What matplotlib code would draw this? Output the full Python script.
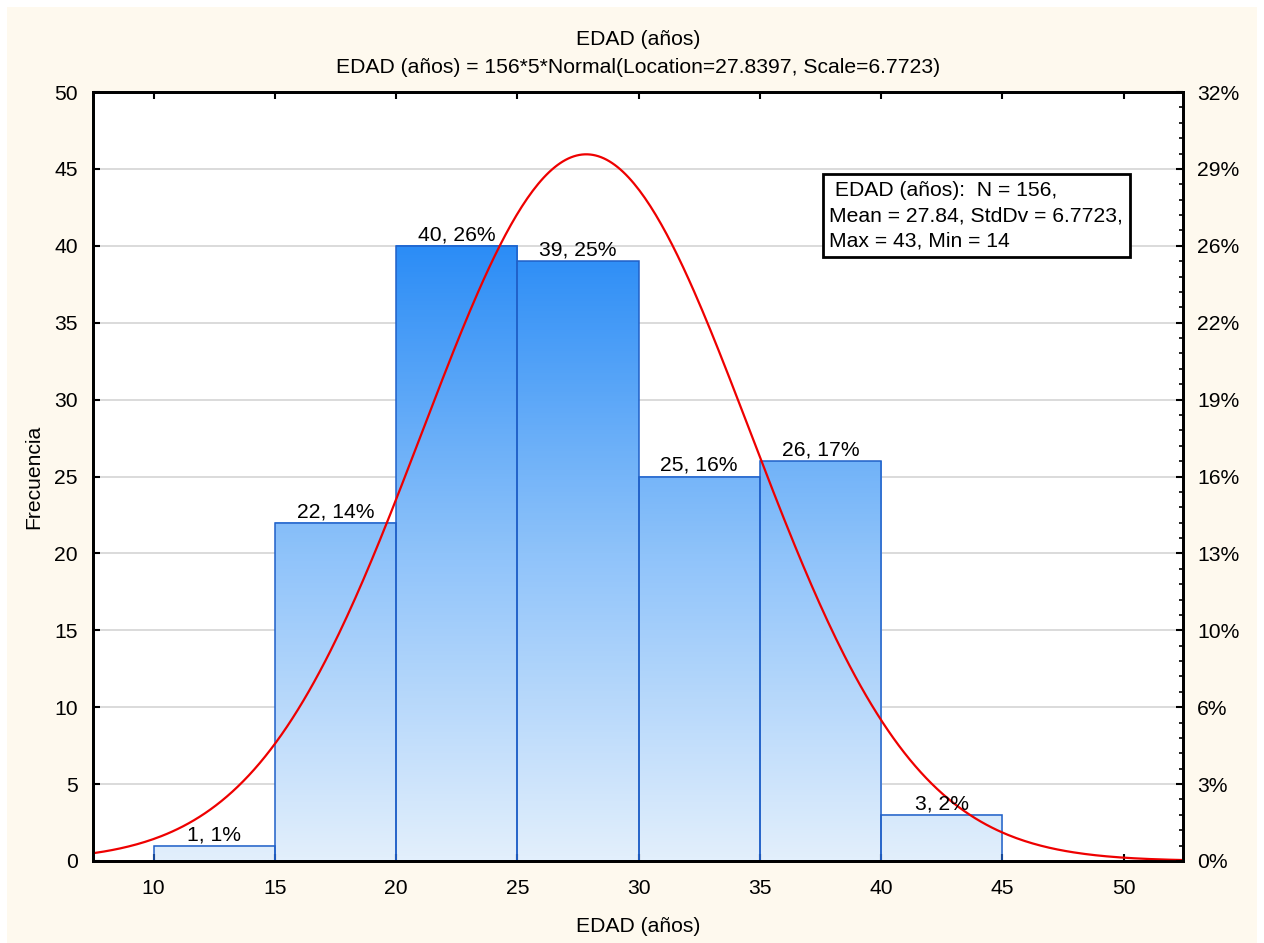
import numpy as np
import matplotlib
matplotlib.use('Agg')
import matplotlib.pyplot as plt
from matplotlib.colors import LinearSegmentedColormap
from matplotlib.patches import Rectangle

plt.rcParams['font.family'] = ['Liberation Sans', 'DejaVu Sans']

bin_edges = [10, 15, 20, 25, 30, 35, 40, 45]
counts = [1, 22, 40, 39, 25, 26, 3]
n_total = 156
mean = 27.8397
std = 6.7723
bin_width = 5
freq_ticks = [0, 5, 10, 15, 20, 25, 30, 35, 40, 45, 50]
x_ticks = [10, 15, 20, 25, 30, 35, 40, 45, 50]
fs = 15.2

fig = plt.figure(figsize=(12.64, 9.43), dpi=100)
fig.patch.set_facecolor('white')
fig.patches.append(Rectangle((7 / 1264, 0), 1250 / 1264, 936 / 943,
                             transform=fig.transFigure, facecolor='#FEF9EE',
                             edgecolor='none', zorder=-10))

ax = fig.add_axes([93 / 1264, 1 - 861 / 943, 1090 / 1264, 769 / 943])
ax.set_facecolor('white')

# horizontal grid
for t in freq_ticks[1:-1]:
    ax.axhline(t, color='#D4D4D4', lw=1.2, zorder=0)

# gradient-filled bars
cmap = LinearSegmentedColormap.from_list('blu', ['#E2EFFC', '#8FC3FA', '#2C8DF6'])
for left, right, c in zip(bin_edges[:-1], bin_edges[1:], counts):
    grad = np.linspace(0, c, 100).reshape(-1, 1)
    ax.imshow(grad, cmap=cmap, vmin=0, vmax=40, origin='lower', aspect='auto',
              extent=[left, right, 0, c], zorder=1, interpolation='bilinear')
lefts = bin_edges[:-1]
ax.bar(lefts, counts, width=bin_width, align='edge', fill=False,
       edgecolor='#2060C8', linewidth=1.1, zorder=2)
ax.set_xlim(7.5, 52.45)
ax.set_ylim(0, 50)

for left, c in zip(lefts, counts):
    pct = round(c / n_total * 100)
    ax.text(left + bin_width / 2, c + 0.1, f'{c}, {pct}%', ha='center', va='bottom',
            fontsize=fs, zorder=4)

# normal curve
xs = np.linspace(7.5, 52.45, 400)
ys = n_total * bin_width * np.exp(-0.5 * ((xs - mean) / std) ** 2) / (std * np.sqrt(2 * np.pi))
ax.plot(xs, ys, color='#EE0000', lw=1.6, zorder=3)

ax.set_xticks(x_ticks)
ax.set_yticks(freq_ticks)
ax.tick_params(axis='both', direction='in', length=5, width=1.5, labelsize=fs,
               top=True, labeltop=False)
ax.tick_params(axis='x', pad=13)
ax.tick_params(axis='y', pad=11)
for s in ax.spines.values():
    s.set_linewidth(2)
ax.set_xlabel('EDAD (años)', fontsize=fs, labelpad=14)
ax.set_ylabel('Frecuencia', fontsize=fs, labelpad=8)

ax2 = ax.twinx()
ax2.set_ylim(0, 50)
ax2.set_yticks(freq_ticks)
ax2.set_yticklabels([f'{round(t / n_total * 100)}%' for t in freq_ticks])
ax2.set_yticks(np.arange(0, 51, 1), minor=True)
ax2.tick_params(axis='y', which='major', direction='in', length=5, width=1.5,
                labelsize=fs, pad=10)
ax2.tick_params(axis='y', which='minor', direction='in', length=3, width=1.2)
for s in ax2.spines.values():
    s.set_linewidth(2)

ax.set_title('EDAD (años)\nEDAD (años) = 156*5*Normal(Location=27.8397, Scale=6.7723)',
             fontsize=fs, pad=14, linespacing=1.6)

ax.text(0.6755, 0.884, ' EDAD (años):  N = 156,\nMean = 27.84, StdDv = 6.7723,\nMax = 43, Min = 14',
        transform=ax.transAxes, ha='left', va='top', fontsize=fs, linespacing=1.4, zorder=5,
        bbox=dict(boxstyle='square,pad=0.32', facecolor='white', edgecolor='black', linewidth=2))

fig.savefig('out.png', dpi=100, facecolor=fig.get_facecolor())
